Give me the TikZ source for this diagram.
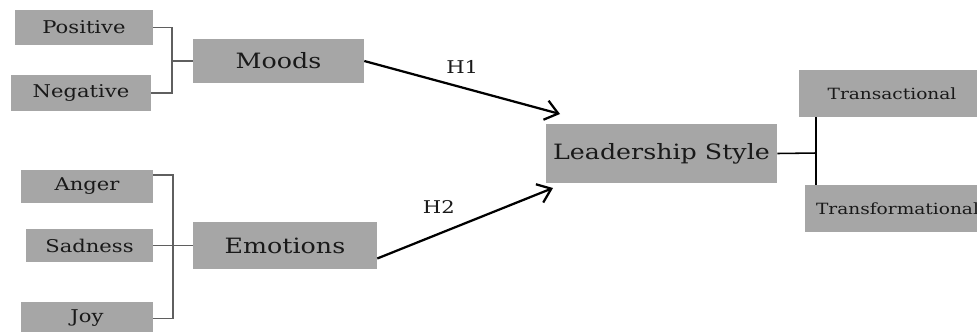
\documentclass[tikz,border=0pt]{standalone}
\usepackage{fontspec}
\setmainfont{DejaVu Serif}[FakeStretch=1.2]
\usepackage{tikz}
\usetikzlibrary{arrows.meta}
\definecolor{BoxGray}{RGB}{166,166,166}
\definecolor{LineGray}{RGB}{95,95,95}
\definecolor{InkDark}{RGB}{25,25,25}

\begin{document}
\begin{tikzpicture}[x=0.025cm,y=-0.025cm,
    box/.style={fill=BoxGray,inner sep=0pt,text=InkDark},
    smalltxt/.style={font=\fontsize{12.5}{14}\selectfont},
    bigtxt/.style={font=\fontsize{15}{17}\selectfont},
    sidetxt/.style={font=\fontsize{11}{13}\selectfont},
    bracket/.style={LineGray,line width=1pt},
    hyp/.style={line width=1.6pt,-{Straight Barb[length=9pt,width=14pt]}}]
  \useasboundingbox (0,0) rectangle (977,331);
  % moods
  \node[box,smalltxt,minimum width=3.45cm,minimum height=0.875cm] (pos) at (84,27.5) {Positive};
  \node[box,smalltxt,minimum width=3.5cm,minimum height=0.9cm] (neg) at (81,93) {Negative};
  \node[box,bigtxt,minimum width=4.275cm,minimum height=1.1cm] (moods) at (278.5,61) {Moods};
  % emotions
  \node[box,smalltxt,minimum width=3.3cm,minimum height=0.825cm] (anger) at (87,186.5) {Anger};
  \node[box,smalltxt,minimum width=3.175cm,minimum height=0.825cm] (sad) at (89.5,245.5) {Sadness};
  \node[box,smalltxt,minimum width=3.3cm,minimum height=0.825cm] (joy) at (87,318.5) {Joy};
  \node[box,bigtxt,minimum width=4.6cm,minimum height=1.175cm] (emo) at (285,245.5) {Emotions};
  % leadership
  \node[box,bigtxt,minimum width=5.775cm,minimum height=1.475cm] (lead) at (661.5,153.5) {Leadership Style};
  \node[box,sidetxt,minimum width=4.65cm,minimum height=1.175cm] (trans) at (892,93.5) {Transactional};
  \node[box,sidetxt,minimum width=4.625cm,minimum height=1.175cm] (transf) at (897.5,208.5) {Transformational};

  \coordinate (mj) at (172,61);
  \coordinate (ej) at (173,246);
  \coordinate (lj) at (816,153);
  \coordinate (h1tip) at (560,114);
  \coordinate (h2tip) at (553,188);

  \draw[bracket] (pos.east) -| (mj) |- (neg.east);
  \draw[bracket] (mj) -- (moods.west);
  \draw[bracket] (anger.10) -| (ej) |- (joy.east);
  \draw[bracket] (sad.east) -- (emo.west);
  \draw[line width=1.1pt] (lead.east) -- (lj);
  \draw[line width=1.1pt] (trans.south -| lj) -- (transf.north -| lj);

  \draw[hyp] (moods.east) -- (h1tip) node[midway,above=6pt,smalltxt,text=InkDark] (h1) {H1};
  \draw[hyp] (emo.-8) -- (h2tip) node[pos=0.35,above=10pt,smalltxt,text=InkDark] (h2) {H2};
\end{tikzpicture}
\end{document}
